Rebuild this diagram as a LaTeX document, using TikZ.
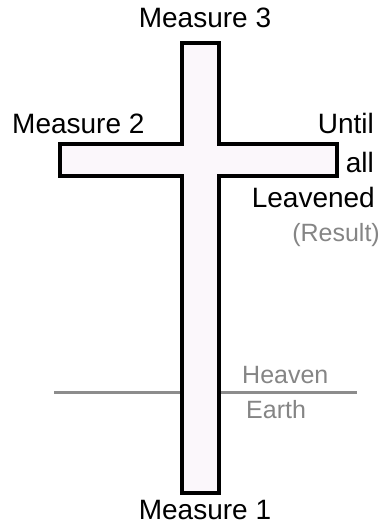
\documentclass[tikz,border=0pt]{standalone}
\usepackage{fontspec}
\setmainfont{Liberation Sans}
\usetikzlibrary{positioning}
\definecolor{crossfill}{rgb}{0.985,0.97,0.985}
\definecolor{labelgray}{rgb}{0.52,0.52,0.52}
\definecolor{linegray}{rgb}{0.55,0.55,0.55}
\tikzset{
  measure/.style={
    inner sep=0pt,
    text=black,
    font=\fontsize{28}{32}\selectfont
  },
  realm/.style={
    inner sep=0pt,
    text=labelgray,
    font=\fontsize{25}{29}\selectfont
  },
  cross/.style={
    draw=black,
    line width=3.5pt,
    fill=crossfill,
    line join=miter
  },
  horizon/.style={
    draw=linegray,
    line width=3pt
  }
}
\begin{document}
\begin{tikzpicture}[x=1pt,y=-1pt]
\useasboundingbox (0,0) rectangle (387,525);
% heaven / earth line, behind the cross
\coordinate (hl) at (54,392);
\coordinate (hr) at (357,392);
\draw[horizon] (hl) -- (hr);
% the cross
\path[cross] (182,43) -- (219,43) -- (219,144) -- (337,144) -- (337,176)
  -- (219,176) -- (219,493) -- (182,493) -- (182,176) -- (60,176)
  -- (60,144) -- (182,144) -- cycle;
% labels
\node[measure, anchor=base] (m3) at (205,27) {Measure 3};
\node[measure, anchor=base west] (m2) at (12,133) {Measure 2};
\node[measure, anchor=base east] (until) at (374,133) {Until};
\node[measure, anchor=base east] (all) at (374,172) {all};
\node[measure, anchor=base east] (leav) at (375,207) {Leavened};
\node[realm, anchor=base east] (res) at (380,241) {(Result)};
\node[realm, anchor=base west] (heav) at (242,383) {Heaven};
\node[realm, anchor=base west] (earth) at (246,418) {Earth};
\node[measure, anchor=base] (m1) at (205,519) {Measure 1};
\end{tikzpicture}
\end{document}
